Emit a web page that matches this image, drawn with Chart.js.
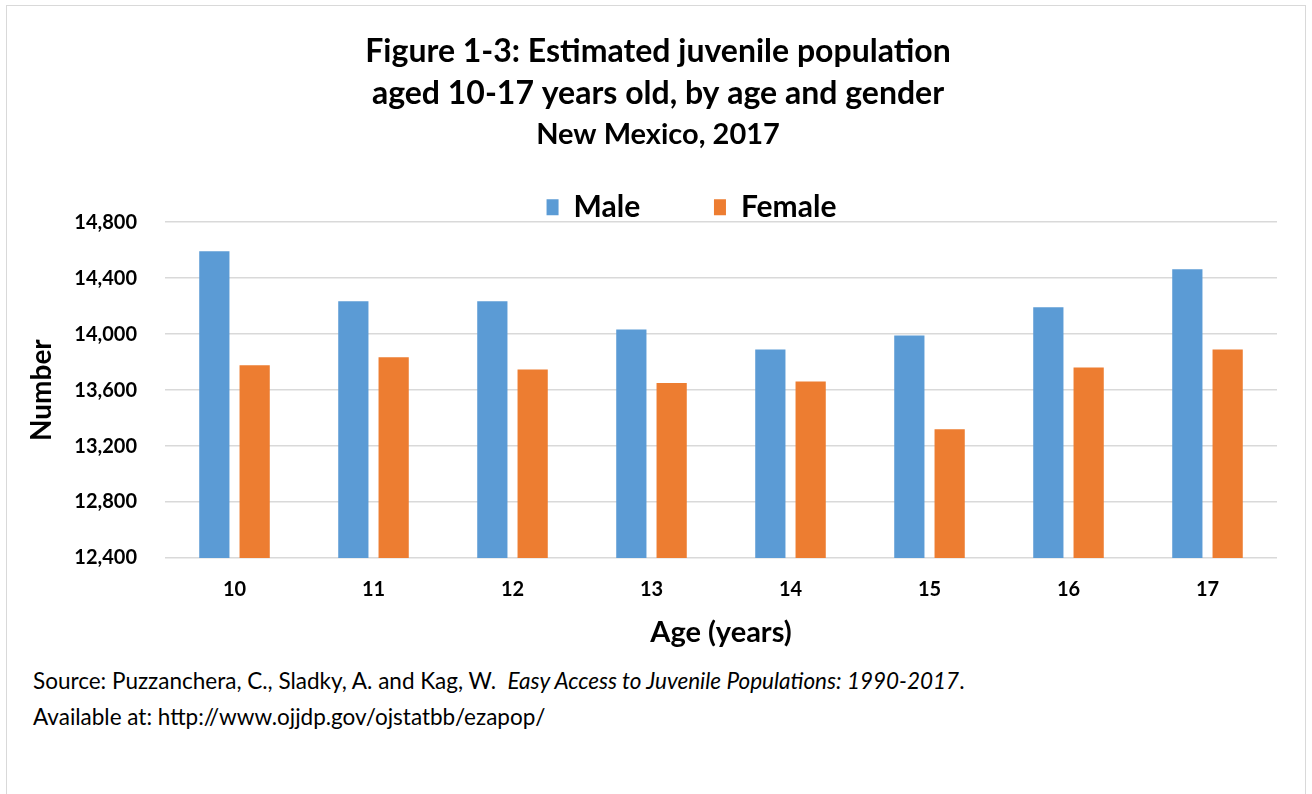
<!DOCTYPE html>
<html>
<head>
<meta charset="utf-8">
<script src="https://cdn.jsdelivr.net/npm/chart.js"></script>
<style>
  body { margin: 0; background: #fff; }
  #frame { position: absolute; left: 6px; top: 5px; width: 1298px; height: 800px; border: 1px solid #d9d9d9; }
  #c { position: absolute; left: 0; top: 0; }
  #src { position: absolute; left: 33px; top: 663px; font: 22.5px Lato, sans-serif; line-height: 36px; color: #000; }
</style>
</head>
<body>
<div id="frame"></div>
<canvas id="c" width="1312" height="660"></canvas>
<div id="src">
  Source: Puzzanchera, C., Sladky, A. and Kag, W.&nbsp; <i>Easy Access to Juvenile Populations: 1990-2017</i>.<br>
  Available at: http://www.ojjdp.gov/ojstatbb/ezapop/
</div>
<script>
const ages = ['10', '11', '12', '13', '14', '15', '16', '17'];
const male = [14592, 14235, 14235, 14034, 13891, 13991, 14192, 14464];
const female = [13777, 13834, 13748, 13650, 13662, 13321, 13762, 13891];
const titleLines = [
  'Figure 1-3: Estimated juvenile population',
  'aged 10-17 years old, by age and gender'
];
const subtitleText = 'New Mexico, 2017';

const font = 'Lato';

// move title / subtitle / legend to where the original has them
const nudge = {
  id: 'nudge',
  afterLayout(chart) {
    chart.boxes.forEach(b => {
      if (b.position !== 'top') return;
      if (b === chart.legend) {
        b.left += 53; b.right += 53;
        b.top += 10; b.bottom += 10;
      } else {
        b.left += 19.5; b.right += 19.5;
      }
    });
  }
};

new Chart(document.getElementById('c'), {
  type: 'bar',
  data: {
    labels: ages,
    datasets: [
      { label: 'Male', data: male, backgroundColor: '#5B9BD5' },
      { label: 'Female', data: female, backgroundColor: '#ED7D31' }
    ]
  },
  options: {
    responsive: false,
    animation: false,
    devicePixelRatio: 1,
    categoryPercentage: 0.58,
    barPercentage: 0.75,
    layout: { padding: { top: 0, left: 0, right: 35, bottom: 0 } },
    plugins: {
      title: {
        display: true,
        text: titleLines,
        color: '#000',
        font: { family: font, size: 32, weight: 'bold', lineHeight: 1.3 },
        padding: { top: 31.2, bottom: 0 }
      },
      subtitle: {
        display: true,
        text: subtitleText,
        color: '#000',
        font: { family: font, size: 29, weight: 'bold', lineHeight: 1.2 },
        padding: { top: 2.4, bottom: 20.6 }
      },
      legend: {
        labels: {
          color: '#000',
          font: { family: font, size: 30, weight: 'bold' },
          boxWidth: 12,
          boxHeight: 16,
          padding: 10,
          generateLabels(chart) {
            const items = Chart.defaults.plugins.legend.labels.generateLabels(chart);
            items[0].text += '\u2003\u2003\u2002\u2009';
            return items;
          }
        }
      },
      tooltip: { enabled: false }
    },
    scales: {
      x: {
        grid: { display: false, drawTicks: false },
        border: { display: false },
        ticks: { color: '#000', padding: 19.5, font: { family: font, size: 20, weight: 'bold' } },
        title: {
          display: true,
          text: 'Age (years)',
          color: '#000',
          font: { family: font, size: 29, weight: 'bold', lineHeight: 1 },
          padding: { top: -2.5, bottom: 12.5 }
        }
      },
      y: {
        min: 12400,
        max: 14800,
        grid: { color: '#d9d9d9', lineWidth: 1.5, drawTicks: false },
        border: { display: false },
        ticks: {
          stepSize: 400,
          color: '#000',
          padding: 28,
          font: { family: font, size: 20, weight: 'bold' },
          callback: v => v.toLocaleString('en-US')
        },
        title: {
          display: true,
          text: 'Number',
          color: '#000',
          font: { family: font, size: 28, weight: 'bold' },
          padding: { top: 25, bottom: 0 }
        },
        afterFit(scale) { scale.width = 165; }
      }
    }
  },
  plugins: [nudge]
});
</script>
</body>
</html>
